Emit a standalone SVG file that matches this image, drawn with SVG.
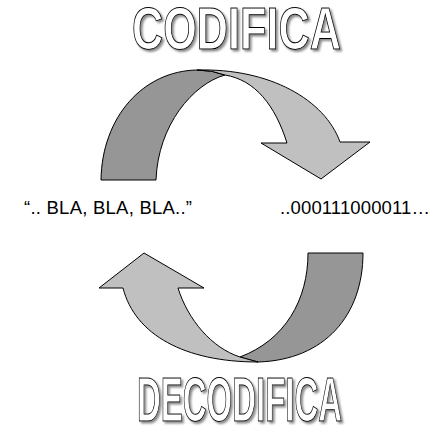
<svg xmlns="http://www.w3.org/2000/svg" width="439" height="432" viewBox="0 0 439 432">
<style>
.dark{fill:#969696;stroke:#000;stroke-width:1;stroke-linejoin:round}
.light{fill:#c0c0c0;stroke:#000;stroke-width:1;stroke-linejoin:round}
.title{font-family:"Liberation Sans",Arial,sans-serif;font-weight:bold;fill:#fff;stroke:#000;stroke-width:1;filter:url(#shadow)}
.label{font-family:"Liberation Sans",Arial,sans-serif;font-size:18.5px;fill:#000}
</style>
<defs>
<filter id="shadow" x="-10%" y="-20%" width="130%" height="150%">
<feOffset in="SourceAlpha" dx="2" dy="2" result="off"/>
<feGaussianBlur in="off" stdDeviation="0.8" result="blur"/>
<feFlood flood-color="#8a8a8a"/>
<feComposite in2="blur" operator="in" result="sh"/>
<feMerge><feMergeNode in="sh"/><feMergeNode in="SourceGraphic"/></feMerge>
</filter>
</defs>
<rect width="439" height="432" fill="#fff"/>
<g id="codifica">
<text class="title" x="132" y="49" font-size="60" textLength="209" lengthAdjust="spacingAndGlyphs">CODIFICA</text>
</g>
<g id="arrow-top">
<path class="dark" d="M101,180 C102,117 143,71 197,70 Q212,70 225,75 C193,84 158,125 156,180 Z"/>
<path class="light" d="M197,70 C270,68 325,100 340,142 L370,142 L321,179 L261,143 L287,143 C275,105 255,80 225,75 Q212,70 197,70 Z"/>
</g>
<g id="arrow-bottom">
<path class="dark" d="M308,253 L363,253 C363,315 325,360 258,362 L240,357 C285,340 308,300 308,253 Z"/>
<path class="light" d="M123,288 L99,288 L144,253 L204,288 L178,288 C188,320 212,348 240,357 L258,362 C185,362 135,335 123,288 Z"/>
</g>
<g id="text-left">
<text class="label" x="24" y="214" textLength="168" lengthAdjust="spacing">“.. BLA, BLA, BLA..”</text>
</g>
<g id="text-right">
<text class="label" x="280" y="214" textLength="150" lengthAdjust="spacing">..000111000011…</text>
</g>
<g id="decodifica">
<text class="title" x="137" y="421" font-size="63" textLength="205" lengthAdjust="spacingAndGlyphs">DECODIFICA</text>
</g>
</svg>
